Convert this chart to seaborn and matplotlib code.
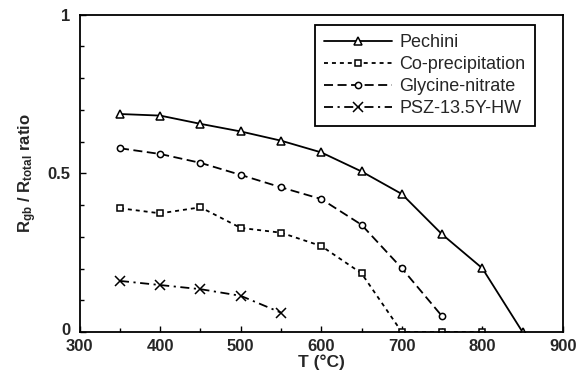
import matplotlib
matplotlib.use("Agg")
import matplotlib.pyplot as plt
import matplotlib.transforms as mtransforms
import seaborn as sns
from matplotlib.ticker import MultipleLocator

# Temperatures (°C) and grain-boundary resistance fractions
temp_pechini = [350, 400, 450, 500, 550, 600, 650, 700, 750, 800, 850]
ratio_pechini = [0.687, 0.682, 0.656, 0.632, 0.603, 0.566, 0.506, 0.435, 0.308, 0.201, 0.0]

temp_coprec = [350, 400, 450, 500, 550, 600, 650, 700, 750, 800]
ratio_coprec = [0.390, 0.374, 0.393, 0.328, 0.313, 0.271, 0.185, 0.0, 0.0, 0.0]

temp_glycine = [350, 400, 450, 500, 550, 600, 650, 700, 750]
ratio_glycine = [0.579, 0.561, 0.533, 0.495, 0.456, 0.419, 0.338, 0.201, 0.050]

temp_psz = [350, 400, 450, 500, 550]
ratio_psz = [0.161, 0.148, 0.135, 0.114, 0.061]

labels = ["Pechini", "Co-precipitation", "Glycine-nitrate", "PSZ-13.5Y-HW"]

sns.set_theme(style="ticks")
plt.rcParams["font.family"] = ["Liberation Sans", "DejaVu Sans"]
plt.rcParams["font.weight"] = "bold"
plt.rcParams["mathtext.fontset"] = "custom"
plt.rcParams["mathtext.rm"] = "Liberation Sans:bold"
plt.rcParams["mathtext.it"] = "Liberation Sans:bold"
plt.rcParams["mathtext.bf"] = "Liberation Sans:bold"

fig = plt.figure(figsize=(5.82, 3.72), dpi=100)
ax = fig.add_axes([0.137, 0.1075, 0.830, 0.853])

series = [
    (temp_pechini, ratio_pechini, "^", "-", 6.0),
    (temp_coprec, ratio_coprec, "s", (0, (2.2, 2.2)), 5.0),
    (temp_glycine, ratio_glycine, "o", (0, (5, 2.5)), 4.5),
    (temp_psz, ratio_psz, "x", (0, (5, 2.5, 1.2, 2.5)), 6.5),
]

for (tx, ry, mk, ls, ms), lab in zip(series, labels):
    sns.lineplot(x=tx, y=ry, ax=ax, color="black", linewidth=1.3,
                 linestyle=ls, marker=mk, markersize=ms,
                 markerfacecolor="white", markeredgecolor="black",
                 markeredgewidth=1.1, label=lab)

ax.set_xlim(300, 900)
ax.set_ylim(0, 1)
ax.set_xticks([300, 400, 500, 600, 700, 800, 900])
ax.xaxis.set_minor_locator(MultipleLocator(50))
ax.set_yticks([0, 0.5, 1])
ax.set_yticklabels(["0", "0.5", "1"])
ax.yaxis.set_minor_locator(MultipleLocator(0.1))
ax.tick_params(which="both", direction="in", color="black", width=1.0)
ax.tick_params(which="major", length=4, labelsize=12, pad=7)
ax.tick_params(axis="x", which="major", pad=5)
ax.tick_params(which="minor", length=3)
for s in ax.spines.values():
    s.set_color("black")
    s.set_linewidth(1.3)

# nudge the "0" on the y axis up a little so it clears the "300" below it
zero_tick = ax.yaxis.get_major_ticks()[0].label1
zero_tick.set_transform(zero_tick.get_transform() +
                        mtransforms.ScaledTranslation(0, 2 / 72, fig.dpi_scale_trans))

ax.set_xlabel("T (°C)", fontsize=12.5, fontweight="bold", labelpad=0)
ax.set_ylabel("R$_\\mathrm{gb}$ / R$_\\mathrm{total}$ ratio", fontsize=12,
              fontweight="bold", labelpad=6)

leg = ax.legend(loc="upper right", bbox_to_anchor=(0.942, 0.968),
                borderaxespad=0, frameon=True, fancybox=False,
                edgecolor="black", fontsize=13, handlelength=3.8,
                handletextpad=0.4, labelspacing=0.28, borderpad=0.5)
leg.get_frame().set_linewidth(1.3)
leg.get_frame().set_alpha(1)
for t in leg.get_texts():
    t.set_fontweight("normal")

fig.savefig("out.png", dpi=100)
